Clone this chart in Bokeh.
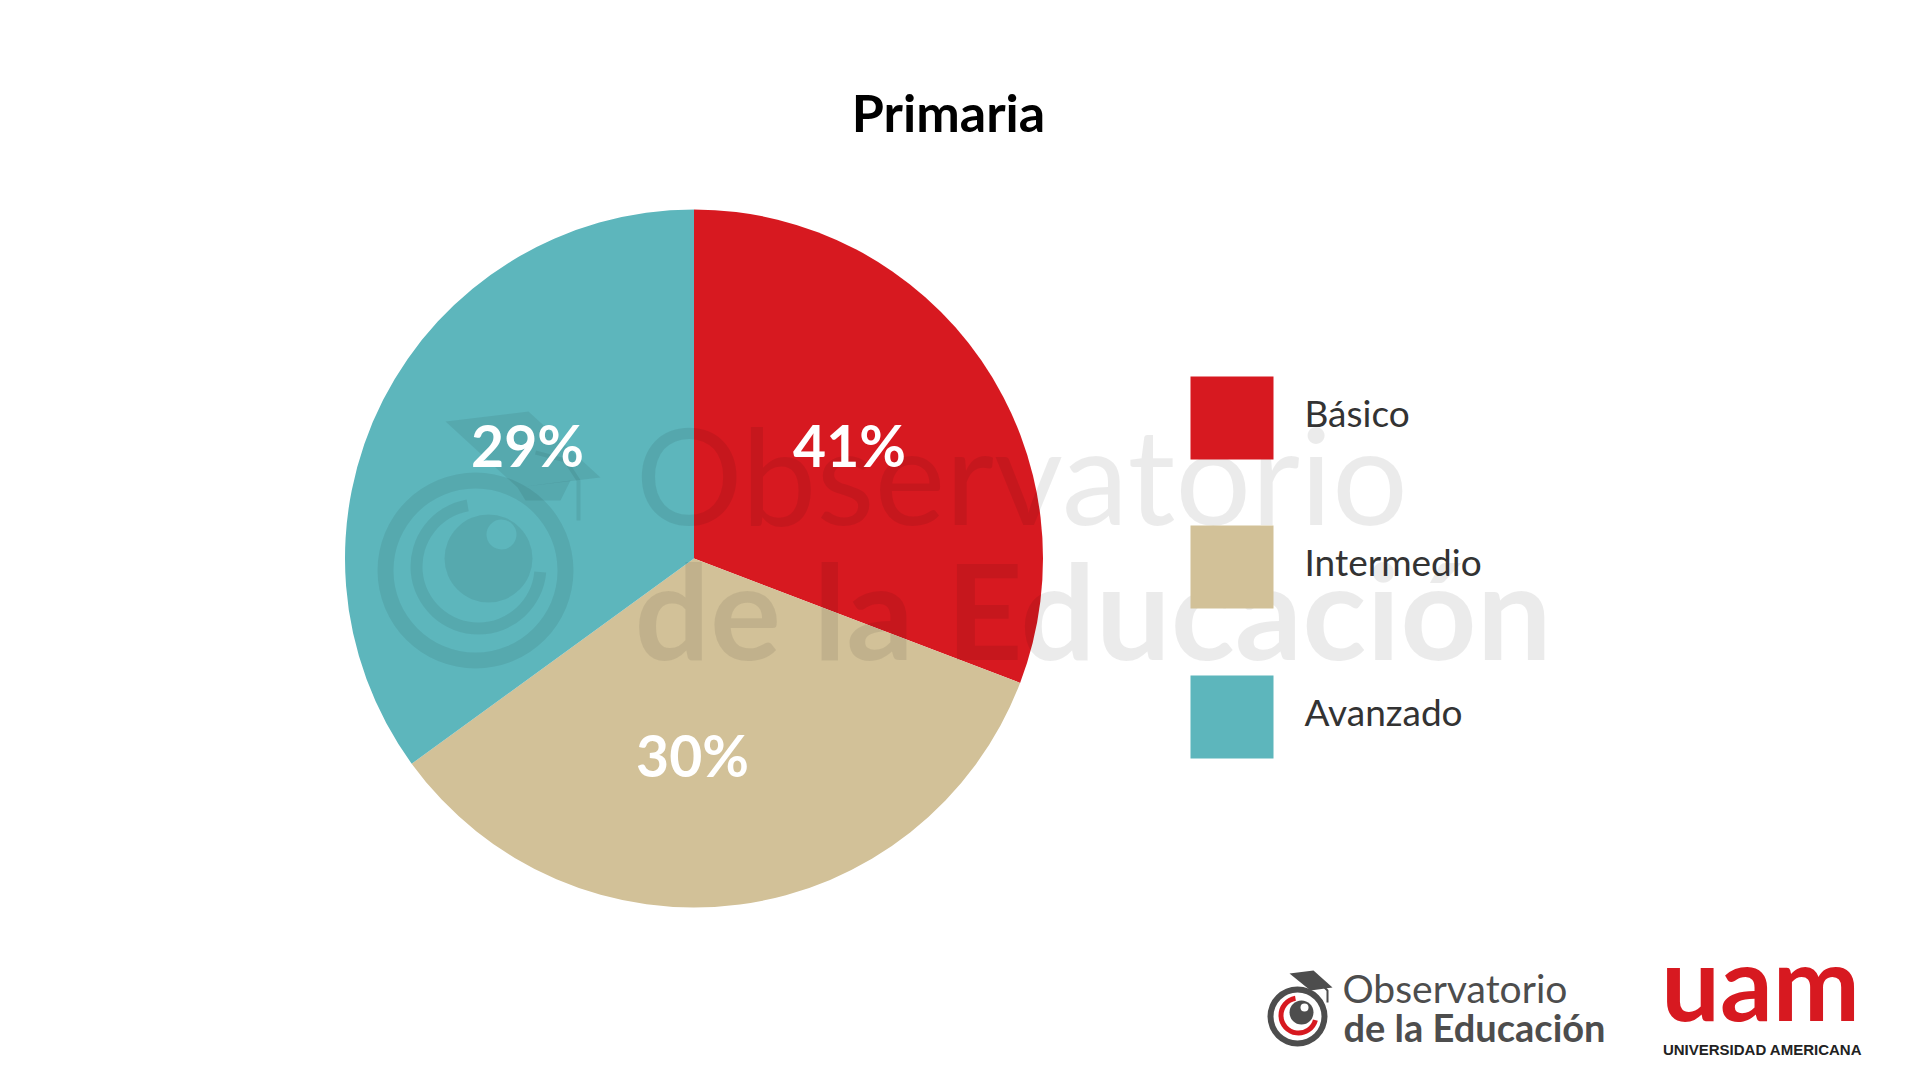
import numpy as np
from bokeh.plotting import figure
from bokeh.models import Range1d, ColumnDataSource
from bokeh.core.properties import value
from bokeh.embed import file_html
from bokeh.resources import INLINE

# ---------------- data ----------------
title = "Primaria"
categories = ["Básico", "Intermedio", "Avanzado"]
slice_sizes = [30.8, 34.2, 35.0]          # slice sizes as drawn in the reference
pct_labels = ["41%", "30%", "29%"]        # printed percentages
colors = ["#D71920", "#D2C198", "#5DB6BC"]

# ---------------- layout ----------------
W, H = 1904, 1064
def Y(v):  # reference pixel row -> data y
    return 1080 - v

def TY(v, size):  # baseline correction for Lato texts
    return 1080 - v + 0.4 * size

p = figure(width=W, height=H, x_range=Range1d(0, 1904), y_range=Range1d(16, 1080),
           output_backend="svg", toolbar_location=None, min_border=0)
p.axis.visible = False
p.grid.visible = False
p.outline_line_color = None
p.background_fill_color = "white"
p.border_fill_color = "white"

FONT = value("Lato")

# ---------------- pie ----------------
cx, cy, R = 693.5, Y(558), 349
frac = np.array(slice_sizes) / np.sum(slice_sizes)
ends = np.cumsum(frac) * 2 * np.pi
starts = ends - frac * 2 * np.pi
src = ColumnDataSource(dict(cat=categories, color=colors,
                            start=np.pi / 2 - starts, end=np.pi / 2 - ends))
p.wedge(x=cx, y=cy, radius=R, start_angle="start", end_angle="end", direction="clock",
        fill_color="color", line_color=None, source=src)

# ---------------- watermark ----------------
wm = dict(fill_color="black", fill_alpha=0.07, line_color=None)
p.annulus(x=475, y=Y(570), inner_radius=82, outer_radius=98, **wm)
p.annular_wedge(x=478, y=Y(566), inner_radius=56, outer_radius=68,
                start_angle=np.radians(100), end_angle=np.radians(355),
                direction="anticlock", **wm)
p.circle(x=488, y=Y(558), radius=44, **wm)
p.circle(x=501, y=Y(534), radius=15, fill_color=colors[2], line_color=None)
p.patch(x=[445, 528, 600, 517], y=[Y(421), Y(411), Y(477), Y(487)], **wm)
p.patch(x=[517, 570, 560, 525], y=[Y(487), Y(480), Y(500), Y(500)], **wm)
p.line(x=[535, 565, 578, 578], y=[Y(452), Y(460), Y(480), Y(520)],
       line_color="black", line_alpha=0.07, line_width=4)
p.text(x=[635], y=[TY(527, 134)], text=["Observatorio"], text_font=FONT, text_font_size="134px",
       text_color="black", text_alpha=0.08, text_baseline="alphabetic", text_align="left")
p.text(x=[634], y=[TY(661, 133)], text=["de la Educación"], text_font=FONT, text_font_size="133px",
       text_font_style="bold", text_color="black", text_alpha=0.08,
       text_baseline="alphabetic", text_align="left")

# ---------------- slice labels ----------------
label_pos_x = [849, 692, 527]
label_pos_y = [TY(467, 57), TY(777, 57), TY(467, 57)]
p.text(x=label_pos_x, y=label_pos_y, text=pct_labels, text_font=FONT, text_font_size="57px",
       text_font_style="bold", text_color="white", text_align="center",
       text_baseline="alphabetic")

# ---------------- title ----------------
p.text(x=[948], y=[TY(132, 52)], text=[title], text_font=FONT, text_font_size="52px",
       text_font_style="bold", text_color="black", text_align="center",
       text_baseline="alphabetic")

# ---------------- legend ----------------
sq_top = [376, 525, 675]
p.quad(left=1190, right=1273, top=[Y(t) for t in sq_top], bottom=[Y(t + 83) for t in sq_top],
       fill_color=colors, line_color=None)
p.text(x=1304, y=[TY(t + 51, 37) for t in sq_top], text=categories, text_font=FONT,
       text_font_size="37px", text_color="#333333", text_baseline="alphabetic",
       text_align="left")

# ---------------- footer logos ----------------
gray = "#4d4d4d"
p.annulus(x=1297, y=Y(1016), inner_radius=24, outer_radius=30, fill_color=gray, line_color=None)
p.annular_wedge(x=1298, y=Y(1015), inner_radius=15, outer_radius=20,
                start_angle=np.radians(100), end_angle=np.radians(345),
                direction="anticlock", fill_color="#D71920", line_color=None)
p.circle(x=1301, y=Y(1012), radius=12, fill_color=gray, line_color=None)
p.circle(x=1304, y=Y(1007), radius=4, fill_color="white", line_color=None)
p.patch(x=[1289, 1313, 1332, 1310], y=[Y(973), Y(970), Y(987), Y(990)],
        fill_color=gray, line_color=None)
p.line(x=[1322, 1327, 1327], y=[Y(985), Y(990), Y(1002)], line_color=gray, line_width=2)
p.text(x=[1342], y=[TY(1003, 39)], text=["Observatorio"], text_font=FONT, text_font_size="39px",
       text_color=gray, text_baseline="alphabetic", text_align="left")
p.text(x=[1343], y=[TY(1042, 38)], text=["de la Educación"], text_font=FONT, text_font_size="38px",
       text_font_style="bold", text_color=gray, text_baseline="alphabetic", text_align="left")
p.text(x=[1760], y=[TY(1022, 104)], text=["uam"], text_font=FONT, text_font_size="104px",
       text_font_style="bold", text_color="#D71920", text_baseline="alphabetic",
       text_align="center")
p.text(x=[1762], y=[Y(1049)], text=["UNIVERSIDAD AMERICANA"], text_font=value("Liberation Sans"),
       text_font_size="15px", text_font_style="bold", text_color="#222222",
       text_baseline="alphabetic", text_align="center")

open("out.html", "w").write(file_html(p, INLINE))
